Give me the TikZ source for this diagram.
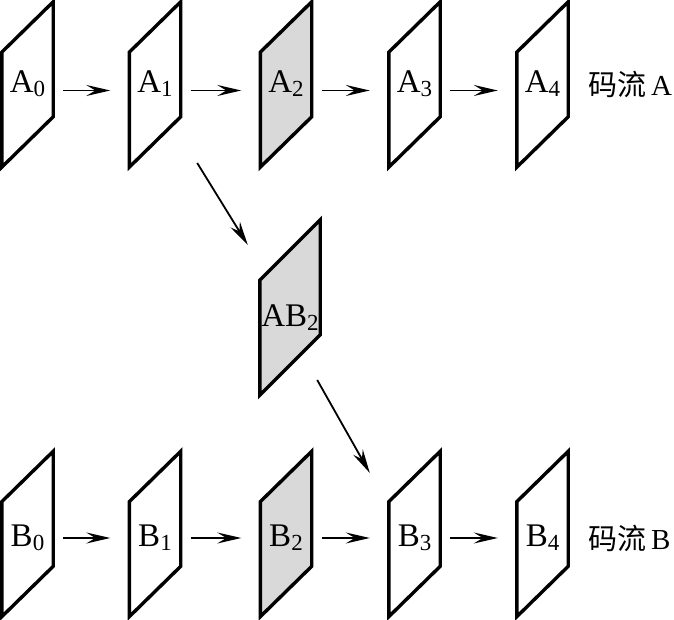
\documentclass[tikz,border=0pt]{standalone}
\usepackage{fontspec}
\setmainfont{Liberation Serif}
\newfontfamily\cjk{Noto Sans CJK SC}
\usetikzlibrary{arrows.meta,backgrounds,positioning}

\tikzset{
  frm/.style={minimum width=51pt, minimum height=165pt, inner sep=0pt,
    text height=#1, text depth=0pt, font=\fontsize{33}{33}\selectfont},
  frm/.default=17pt,
  bigfrm/.style={frm=39pt, minimum width=60pt, minimum height=175pt},
  link/.style={line width=1.8pt, -{Stealth[length=24pt,width=11pt,inset=9pt]},
    shorten <=10pt, shorten >=19pt},
  slant/.style={line width=1.8pt, -{Stealth[length=24pt,width=11pt,inset=8pt]}},
  lbl/.style={inner sep=0pt, font=\fontsize{29}{29}\selectfont}
}
% small lowered index
\newcommand\idx[1]{\raisebox{-4pt}{\fontsize{23}{23}\selectfont #1}}
% slanted frame behind a node
\newcommand\slab[2][white]{%
  \draw[line width=3.4pt, fill=#1] (#2.south west) -- ([yshift=115pt]#2.south west)
    -- (#2.north east) -- ([yshift=-115pt]#2.north east) -- cycle;}

\begin{document}
\begin{tikzpicture}[x=1pt, y=1pt]
    \useasboundingbox (0,0) rectangle (674,620);

    % Stream A
    \node[frm] (a0) at (27.5,535.5) {A\idx{0}};
    \node[frm] (a1) at (155,535.5) {A\idx{1}};
    \node[frm] (a2) at (286,535.5) {A\idx{2}};
    \node[frm] (a3) at (414.5,535.5) {A\idx{3}};
    \node[frm] (a4) at (542.5,535.5) {A\idx{4}};
    \node[lbl, right=20pt of a4] (la) {{\cjk 码流}\,A};

    % switching frame
    \node[bigfrm] (ab2) at (290,312.5) {AB\idx{2}};

    % Stream B
    \node[frm=26pt] (b0) at (27.5,86) {B\idx{0}};
    \node[frm=26pt] (b1) at (155,86) {B\idx{1}};
    \node[frm=26pt] (b2) at (286,86) {B\idx{2}};
    \node[frm=26pt] (b3) at (414.5,86) {B\idx{3}};
    \node[frm=26pt] (b4) at (542.5,86) {B\idx{4}};
    \node[lbl, right=20pt of b4, yshift=-4pt] (lb) {{\cjk 码流}\,B};

    % Frames
    \begin{scope}[on background layer]
        \slab{a0} \slab{a1} \slab[gray!30]{a2} \slab{a3} \slab{a4}
        \slab[gray!30]{ab2}
        \slab{b0} \slab{b1} \slab[gray!30]{b2} \slab{b3} \slab{b4}
    \end{scope}

    % Arrows
    \draw[link] ([yshift=-6pt]a0.east) -- ([yshift=-6pt]a1.west);
    \draw[link] ([yshift=-6pt]a1.east) -- ([yshift=-6pt]a2.west);
    \draw[link] ([yshift=-6pt]a2.east) -- ([yshift=-6pt]a3.west);
    \draw[link] ([yshift=-6pt]a3.east) -- ([yshift=-6pt]a4.west);

    \draw[link] ([yshift=-4pt]b0.east) -- ([yshift=-4pt]b1.west);
    \draw[link] ([yshift=-4pt]b1.east) -- ([yshift=-4pt]b2.west);
    \draw[link] ([yshift=-4pt]b2.east) -- ([yshift=-4pt]b3.west);
    \draw[link] ([yshift=-4pt]b3.east) -- ([yshift=-4pt]b4.west);

    \draw[slant] ([shift={(16.5pt,-78.5pt)}]a1.east) -- ([shift={(-12pt,62.5pt)}]ab2.west);
    \draw[slant] ([shift={(-3pt,-72.5pt)}]ab2.east) -- ([shift={(-19pt,61pt)}]b3.west);
\end{tikzpicture}
\end{document}
